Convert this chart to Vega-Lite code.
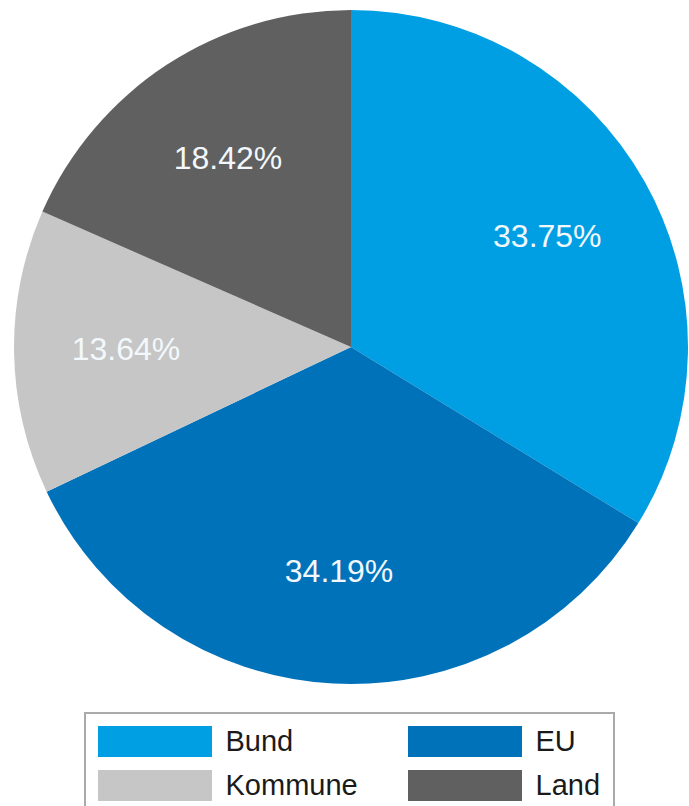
{
  "$schema": "https://vega.github.io/schema/vega-lite/v6.json",
  "autosize": {"type": "none"},
  "padding": {"left": 13, "top": 0, "right": 0, "bottom": 112},
  "width": 676,
  "height": 694,
  "background": "white",
  "data": {
    "values": [
      {"quelle": "Bund", "anteil": 33.75, "label": "33.75%"},
      {"quelle": "EU", "anteil": 34.19, "label": "34.19%"},
      {"quelle": "Kommune", "anteil": 13.64, "label": "13.64%"},
      {"quelle": "Land", "anteil": 18.42, "label": "18.42%"}
    ]
  },
  "encoding": {
    "theta": {"field": "anteil", "type": "quantitative", "stack": true},
    "order": {"field": "quelle", "sort": "ascending"}
  },
  "layer": [
    {
      "mark": {"type": "arc", "outerRadius": 337, "strokeWidth": 0},
      "encoding": {
        "color": {
          "field": "quelle",
          "type": "nominal",
          "scale": {
            "domain": ["Bund", "EU", "Kommune", "Land"],
            "range": ["#009FE3", "#0072BA", "#C6C6C6", "#606060"]
          },
          "legend": {
            "title": null,
            "orient": "none",
            "legendX": 72,
            "legendY": 713,
            "direction": "horizontal",
            "columns": 2,
            "columnPadding": 50,
            "rowPadding": 13,
            "padding": 13,
            "symbolType": "M-3.677,-1H3.677V1H-3.677Z",
            "symbolSize": 961,
            "symbolOffset": 41.5,
            "symbolStrokeWidth": 0,
            "symbolOpacity": 1,
            "labelOffset": 55,
            "labelFont": "Liberation Sans",
            "labelFontSize": 29,
            "labelColor": "#1a1a1a",
            "labelLimit": 300,
            "strokeColor": "#aaaaaa",
            "encode": {"legend": {"update": {"strokeWidth": {"value": 2}}}}
          }
        }
      }
    },
    {
      "mark": {
        "type": "text",
        "radius": 225,
        "font": "Liberation Sans",
        "fontSize": 32,
        "fill": "#F2F8FC",
        "align": "center",
        "baseline": "middle"
      },
      "encoding": {
        "text": {"field": "label", "type": "nominal"},
        "detail": {"field": "quelle", "type": "nominal"}
      }
    }
  ]
}
